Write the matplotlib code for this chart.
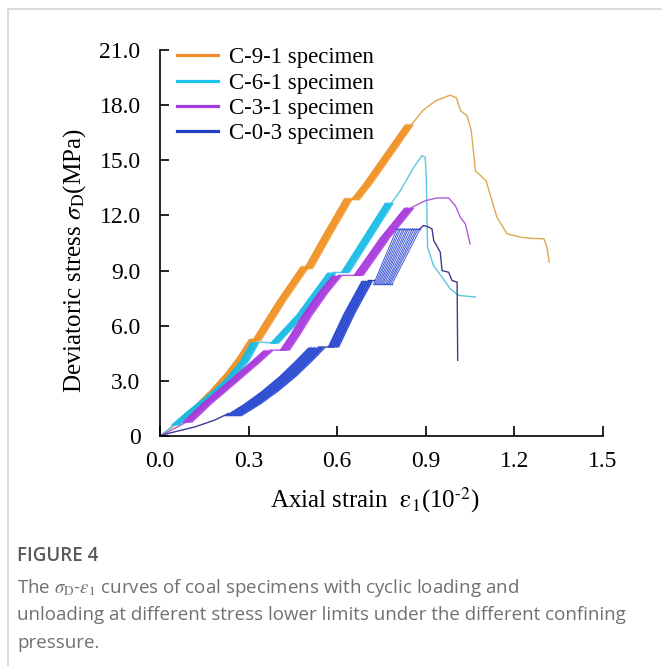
import numpy as np
import matplotlib
matplotlib.use("Agg")
import matplotlib.pyplot as plt
from matplotlib.lines import Line2D

plt.rcParams['font.family'] = ['Liberation Serif', 'DejaVu Serif']
plt.rcParams['mathtext.fontset'] = 'stix'

# ---------------- data (strain in 1e-2, stress in MPa) ----------------
labels = ["C-9-1 specimen", "C-6-1 specimen", "C-3-1 specimen", "C-0-3 specimen"]
x_ticks = [0.0, 0.3, 0.6, 0.9, 1.2, 1.5]
x_tick_labels = ["0.0", "0.3", "0.6", "0.9", "1.2", "1.5"]
y_ticks = [0, 3, 6, 9, 12, 15, 18, 21]
y_tick_labels = ["0", "3.0", "6.0", "9.0", "12.0", "15.0", "18.0", "21.0"]

# C-9-1: thin skeleton (initial + post-peak) and cyclic bands (centre paths)
c91_thin_x = [0.0, 0.09, None, 0.853, 0.889, 0.932, 0.982, 1.003, 1.018, 1.040, 1.054, 1.068, 1.104,
              1.141, 1.175, 1.220, 1.260, 1.300, 1.310, 1.318]
c91_thin_y = [0.0, 1.05, None, 16.97, 17.69, 18.23, 18.54, 18.41, 17.69, 17.42, 16.6, 14.43, 13.89,
              11.9, 11.0, 10.82, 10.75, 10.73, 10.28, 9.46]
c91_bands = [
    ([0.085, 0.135, 0.185, 0.235, 0.275, 0.315], [1.0, 1.75, 2.55, 3.45, 4.3, 5.3]),
    ([0.325, 0.41, 0.49], [5.2, 7.38, 9.25]),
    ([0.50, 0.57, 0.637], [9.1, 11.1, 12.95]),
    ([0.658, 0.70, 0.77, 0.843], [12.85, 13.7, 15.3, 16.97]),
]

# C-6-1
c61_thin_x = [0.0, 0.05, None, 0.328, 0.39, None, 0.588, 0.633, None, 0.785, 0.814, 0.859, 0.887, 0.898,
              0.902, 0.904, 0.906, 0.926, 0.955, 0.983, 1.011, 1.068]
c61_thin_y = [0.0, 0.65, None, 5.12, 5.05, None, 8.9, 8.9, None, 12.7, 13.35, 14.61, 15.25, 15.16,
              14.0, 12.0, 10.27, 9.28, 8.64, 8.0, 7.65, 7.56]
c61_bands = [
    ([0.05, 0.10, 0.17, 0.23, 0.285, 0.32], [0.6, 1.3, 2.2, 3.05, 4.1, 5.12]),
    ([0.385, 0.475, 0.58], [5.05, 6.6, 8.9]),
    ([0.625, 0.70, 0.775], [8.9, 10.8, 12.7]),
]

# C-3-1
c31_thin_x = [0.0, 0.095, None, 0.373, 0.424, None, 0.605, 0.678, None, 0.853, 0.898, 0.938, 0.977,
              1.0, 1.017, 1.034, 1.05]
c31_thin_y = [0.0, 0.8, None, 4.67, 4.67, None, 8.74, 8.74, None, 12.44, 12.8, 12.95, 12.95,
              12.53, 11.9, 11.54, 10.45]
c31_bands = [
    ([0.09, 0.155, 0.25, 0.315, 0.365], [0.75, 1.75, 3.05, 3.95, 4.67]),
    ([0.42, 0.455, 0.495, 0.55, 0.598], [4.67, 5.5, 6.55, 7.8, 8.74]),
    ([0.67, 0.76, 0.843], [8.74, 10.8, 12.44]),
]

# C-0-3
c03_thin_x = [0.0, 0.028, 0.119, 0.186, 0.232, None, 0.537, 0.588, None, 0.706, 0.729, None,
              0.88, 0.892, 0.905, 0.921, 0.927, 0.949, 0.955, 0.977, 0.989, 1.006, 1.008]
c03_thin_y = [0.0, 0.14, 0.5, 0.87, 1.23, None, 4.84, 4.84, None, 8.46, 8.46, None,
              11.27, 11.45, 11.4, 11.27, 10.63, 10.0, 9.0, 8.91, 8.46, 8.37, 4.12]
c03_bands = [
    ([0.245, 0.31, 0.37, 0.43, 0.485, 0.53], [1.1, 1.75, 2.45, 3.25, 4.1, 4.84]),
    ([0.585, 0.64, 0.70], [4.84, 6.7, 8.46]),
]
# last stage of C-0-3: individual cycles (low-end strain -> high-end strain)
c03_cyc_low_x = [0.723, 0.728, 0.733, 0.738, 0.743, 0.748, 0.753, 0.758, 0.764, 0.769, 0.774, 0.779, 0.785]
c03_cyc_high_x = [0.802, 0.809, 0.815, 0.822, 0.828, 0.835, 0.841, 0.848, 0.855, 0.861, 0.868, 0.874, 0.881]
c03_cyc_low_y = 8.25
c03_cyc_high_y = 11.27

# ---------------- styles ----------------
band_colors = ["#F5972E", "#22C4EC", "#B040E4", "#2848D4"]
band_edge = ["#E8860F", "#0AAFDD", "#9A2AD0", "#1A38C0"]
thin_colors = ["#DDA850", "#5CC6E2", "#B05CD4", "#3C3C94"]
legend_colors = ["#F28C28", "#1EC3EA", "#A33BDF", "#2141C4"]
band_halfwidth = [0.016, 0.016, 0.018, 0.020]

fig = plt.figure(figsize=(6.62, 6.66), dpi=100)
W, H = 662, 666
ax = fig.add_axes([160 / W, (H - 436) / H, (603 - 160) / W, (436 - 50) / H])

def tx(v):
    return [np.nan if a is None else a for a in v]

datasets = [
    (c91_thin_x, c91_thin_y, c91_bands),
    (c61_thin_x, c61_thin_y, c61_bands),
    (c31_thin_x, c31_thin_y, c31_bands),
    (c03_thin_x, c03_thin_y, c03_bands),
]

for i, (txs, tys, bands) in enumerate(datasets):
    ax.plot(tx(txs), tx(tys), color=thin_colors[i], lw=1.0, zorder=2)
    hw = band_halfwidth[i]
    for j, (bx, by) in enumerate(bands):
        bx = np.asarray(bx)
        by = np.asarray(by)
        w = hw * (1.5 if (i == 3 and j == 0) else 1.0)
        ax.fill_betweenx(by, bx - w, bx + w, color=band_colors[i], alpha=0.9, lw=0, zorder=3)
        for f in (-0.6, -0.2, 0.2, 0.6):
            ax.plot(bx + f * w, by, color=band_edge[i], lw=0.6, alpha=0.7, zorder=3)

for lx, hx in zip(c03_cyc_low_x, c03_cyc_high_x):
    ax.plot([lx, hx], [c03_cyc_low_y, c03_cyc_high_y], color="#4058D4", lw=0.7, zorder=3)
ax.plot([c03_cyc_high_x[0], c03_cyc_high_x[-1]], [c03_cyc_high_y] * 2, color="#4058D4", lw=1.0, zorder=3)
ax.plot([c03_cyc_low_x[0], c03_cyc_low_x[-1]], [c03_cyc_low_y] * 2, color="#4058D4", lw=1.0, zorder=3)

ax.set_xlim(0, 1.5)
ax.set_ylim(0, 21)
ax.spines['top'].set_visible(False)
ax.spines['right'].set_visible(False)
for s in ['left', 'bottom']:
    ax.spines[s].set_linewidth(1.2)
ax.set_xticks(x_ticks)
ax.set_xticklabels(x_tick_labels)
ax.set_yticks(y_ticks)
ax.set_yticklabels(y_tick_labels)
ax.tick_params(axis='x', direction='in', length=7, width=1.2, labelsize=17, pad=11)
ax.tick_params(axis='y', direction='in', length=6.5, width=1.2, labelsize=17, pad=14)

handles = [Line2D([0], [0], color=c, lw=2.3) for c in legend_colors]
ax.legend(handles, labels, loc='upper left', bbox_to_anchor=(0.038, 1.007), frameon=False,
          fontsize=16.4, handlelength=1.8, handletextpad=0.5, labelspacing=0.19,
          borderpad=0, borderaxespad=0)

fig.text(375 / W, (H - 500) / H, r'Axial strain  $\mathrm{\varepsilon}_1$(10$^{\text{-}2}$)', fontsize=18,
         ha='center', va='center')
fig.text(75 / W, (H - 261) / H, r'Deviatoric stress $\sigma_{\mathrm{D}}$(MPa)', fontsize=18,
         rotation=90, ha='center', va='center')

# figure frame (light grey)
fig.add_artist(Line2D([8 / W, 1.0], [(H - 9) / H] * 2, color="#d4d4d4", lw=1.2))
fig.add_artist(Line2D([8 / W] * 2, [0.0, (H - 9) / H], color="#d4d4d4", lw=1.2))

cap_font = ['Open Sans', 'DejaVu Sans']
fig.text(17 / W, (H - 556) / H, "FIGURE 4", fontsize=13.5, family=cap_font, weight='semibold',
         color="#5a5a5a", va='center', ha='left')
cap_lines = [
    r"The $\sigma_{\mathrm{D}}$-$\varepsilon_1$ curves of coal specimens with cyclic loading and",
    "unloading at different stress lower limits under the different confining",
    "pressure.",
]
for k, line in enumerate(cap_lines):
    fig.text(17 / W, (H - (588 + 27.5 * k)) / H, line, fontsize=13.5, family=cap_font,
             color="#707070", va='center', ha='left')

fig.savefig("out.png", dpi=100)
